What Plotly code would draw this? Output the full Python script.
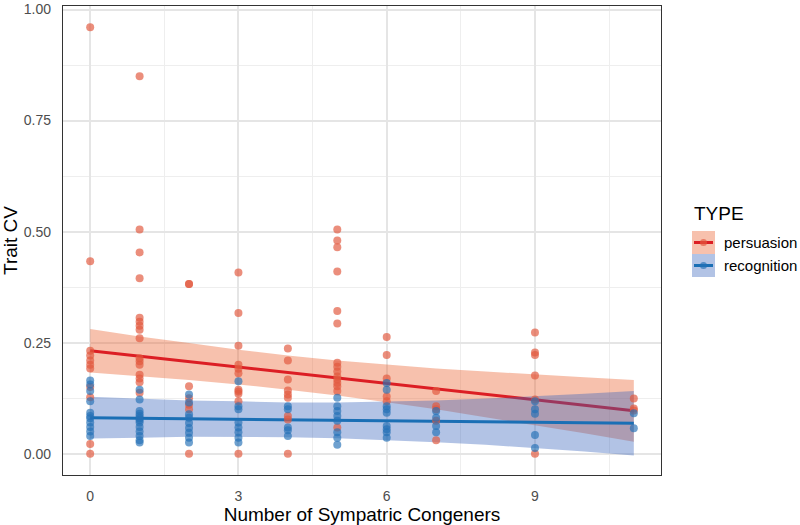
import plotly.graph_objects as go

# ---------------- data ----------------
pers_x = ([0]*11 + [1]*16 + [2]*7 + [3]*11 + [4]*9 + [5]*15 + [6]*5 + [7]*5 + [9]*6 + [11]*3)
pers_y = [0.96, 0.433, 0.232, 0.221, 0.21, 0.20, 0.192, 0.15, 0.127, 0.022, 0.0,
          0.85, 0.505, 0.453, 0.395, 0.306, 0.297, 0.288, 0.279, 0.26, 0.215, 0.208, 0.20, 0.178, 0.169, 0.161, 0.137,
          0.382, 0.382, 0.152, 0.125, 0.11, 0.10, 0.0,
          0.408, 0.317, 0.243, 0.20, 0.191, 0.181, 0.144, 0.14, 0.135, 0.118, 0.0,
          0.237, 0.21, 0.167, 0.142, 0.133, 0.126, 0.085, 0.077, 0.0,
          0.505, 0.48, 0.465, 0.41, 0.321, 0.293, 0.205, 0.196, 0.185, 0.174, 0.167, 0.159, 0.152, 0.141, 0.059,
          0.263, 0.222, 0.169, 0.129, 0.118,
          0.141, 0.107, 0.1, 0.074, 0.03,
          0.273, 0.228, 0.222, 0.176, 0.122, 0.0,
          0.124, 0.102, 0.097]

rec_x = ([0]*11 + [1]*13 + [2]*9 + [3]*8 + [4]*5 + [5]*8 + [6]*9 + [7]*4 + [9]*5 + [11]*2)
rec_y = [0.165, 0.156, 0.141, 0.118, 0.092, 0.085, 0.08, 0.07, 0.06, 0.05, 0.04,
         0.144, 0.122, 0.096, 0.09, 0.085, 0.08, 0.075, 0.07, 0.06, 0.05, 0.04, 0.03, 0.025,
         0.133, 0.115, 0.089, 0.081, 0.069, 0.058, 0.047, 0.036, 0.025,
         0.163, 0.107, 0.1, 0.07, 0.059, 0.048, 0.036, 0.025,
         0.107, 0.1, 0.059, 0.053, 0.04,
         0.126, 0.107, 0.096, 0.085, 0.074, 0.048, 0.036, 0.02,
         0.159, 0.144, 0.107, 0.1, 0.092, 0.0625, 0.055, 0.048, 0.036,
         0.096, 0.081, 0.0625, 0.048,
         0.118, 0.1, 0.09, 0.042, 0.013,
         0.091, 0.057]

fit_x = [0, 1, 2, 3, 4, 5, 6, 7, 8, 9, 10, 11]
pers_fit = [0.232, 0.2197, 0.2074, 0.1951, 0.1828, 0.1705, 0.1582, 0.1459, 0.1336, 0.1213, 0.109, 0.0967]
pers_lo = [0.183, 0.175, 0.166, 0.156, 0.144, 0.131, 0.116, 0.100, 0.082, 0.064, 0.046, 0.027]
pers_hi = [0.281, 0.264, 0.249, 0.234, 0.221, 0.210, 0.201, 0.192, 0.185, 0.178, 0.172, 0.166]
rec_fit = [0.081, 0.0799, 0.0787, 0.0776, 0.0764, 0.0753, 0.0742, 0.073, 0.0719, 0.0707, 0.0696, 0.0685]
rec_lo = [0.034, 0.036, 0.038, 0.038, 0.037, 0.035, 0.031, 0.026, 0.020, 0.013, 0.005, -0.004]
rec_hi = [0.128, 0.124, 0.120, 0.118, 0.115, 0.115, 0.117, 0.120, 0.124, 0.129, 0.135, 0.141]

x_ticks = [0, 3, 6, 9]
y_ticks = [0, 0.25, 0.5, 0.75, 1.0]
y_ticktext = ["0.00", "0.25", "0.50", "0.75", "1.00"]
groups = ["persuasion", "recognition"]

# ---------------- styles ----------------
PT_RED = "rgba(226,88,62,0.68)"
PT_BLUE = "rgba(36,112,182,0.66)"
LN_RED = "#DC1E24"
LN_BLUE = "#1A6FB5"
BAND_RED = "rgba(235,100,50,0.4)"
BAND_BLUE = "rgba(52,97,187,0.38)"
FONT = "Liberation Sans, Arial, Helvetica, sans-serif"

fig = go.Figure()

for name, lo, hi, fit, band, ln in [
    (groups[0], pers_lo, pers_hi, pers_fit, BAND_RED, LN_RED),
    (groups[1], rec_lo, rec_hi, rec_fit, BAND_BLUE, LN_BLUE),
]:
    fig.add_trace(go.Scatter(x=fit_x + fit_x[::-1], y=hi + lo[::-1], fill="toself",
                             fillcolor=band, line=dict(width=0), mode="lines",
                             hoverinfo="skip", showlegend=False))
    fig.add_trace(go.Scatter(x=fit_x, y=fit, mode="lines", line=dict(color=ln, width=3),
                             name=name, showlegend=False))

fig.add_trace(go.Scatter(x=pers_x, y=pers_y, mode="markers", name=groups[0],
                         marker=dict(color=PT_RED, size=8, line=dict(width=0)), showlegend=False))
fig.add_trace(go.Scatter(x=rec_x, y=rec_y, mode="markers", name=groups[1],
                         marker=dict(color=PT_BLUE, size=8, line=dict(width=0)), showlegend=False))

# ---------------- layout ----------------
L, R, T, B = 63, 661, 6, 475
W, H = 800, 525


def px2x(p):
    return (p - L) / (R - L)


def px2y(p):
    return (B - p) / (B - T)


axis_common = dict(showline=True, mirror=True, linecolor="#333333", linewidth=1.3,
                   zeroline=False, gridcolor="#E5E5E5", gridwidth=1.6,
                   ticks="outside", tickcolor="rgba(0,0,0,0)", ticklabeloverflow="allow",
                   tickfont=dict(size=14, color="#4D4D4D", family=FONT))

fig.update_layout(
    width=W, height=H,
    margin=dict(l=L, r=W - R, t=T, b=H - B, autoexpand=False),
    paper_bgcolor="white", plot_bgcolor="white",
    font=dict(family=FONT),
    xaxis=dict(range=[-0.55, 11.55], tickvals=x_ticks, ticklen=8,
               minor=dict(tickvals=[1.5, 4.5, 7.5, 10.5], showgrid=True,
                          gridcolor="#EEEEEE", gridwidth=1, ticks=""),
               title=dict(text="Number of Sympatric Congeners", standoff=6,
                          font=dict(size=19, color="black", family=FONT)),
               automargin=False, **axis_common),
    yaxis=dict(range=[-0.048, 1.008], tickvals=y_ticks, ticktext=y_ticktext, ticklen=8,
               minor=dict(tickvals=[0.125, 0.375, 0.625, 0.875], showgrid=True,
                          gridcolor="#EEEEEE", gridwidth=1, ticks=""),
               title=dict(text="Trait CV", standoff=6,
                          font=dict(size=19, color="black", family=FONT)),
               automargin=False, **axis_common),
    showlegend=False,
)

# ---------------- manual legend ----------------
shapes = []
annotations = [dict(text="TYPE", x=px2x(692), y=px2y(213), xref="paper", yref="paper",
                    xanchor="left", yanchor="middle", showarrow=False,
                    font=dict(size=19, color="black", family=FONT))]
key_rows = [(231, 254, BAND_RED, LN_RED, PT_RED, groups[0]),
            (254, 277, BAND_BLUE, LN_BLUE, PT_BLUE, groups[1])]
for top, bot, band, ln, pt, label in key_rows:
    cy = (top + bot) / 2
    shapes.append(dict(type="rect", xref="paper", yref="paper", x0=px2x(692), x1=px2x(715),
                       y0=px2y(bot), y1=px2y(top), fillcolor=band, line=dict(width=0), layer="above"))
    shapes.append(dict(type="line", xref="paper", yref="paper", x0=px2x(694), x1=px2x(713),
                       y0=px2y(cy), y1=px2y(cy), line=dict(color=ln, width=3), layer="above"))
    shapes.append(dict(type="circle", xref="paper", yref="paper", x0=px2x(700), x1=px2x(707),
                       y0=px2y(cy + 3.5), y1=px2y(cy - 3.5), fillcolor=pt, line=dict(width=0),
                       layer="above"))
    annotations.append(dict(text=label, x=px2x(722), y=px2y(cy), xref="paper", yref="paper",
                            xanchor="left", yanchor="middle", showarrow=False,
                            font=dict(size=15, color="black", family=FONT)))

fig.update_layout(shapes=shapes, annotations=annotations)

fig.write_html("out.html")
